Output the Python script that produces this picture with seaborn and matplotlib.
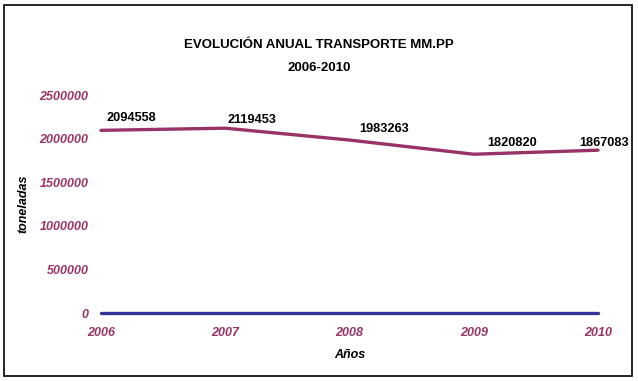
import pandas as pd
import matplotlib
matplotlib.use('Agg')
import matplotlib.pyplot as plt
import seaborn as sns

# data
years = [2006, 2007, 2008, 2009, 2010]
toneladas = [2094558, 2119453, 1983263, 1820820, 1867083]
base = [0, 0, 0, 0, 0]
label_offsets = [(30, 12), (27, 8), (35, 11), (38, 11), (6, 7)]

df = pd.DataFrame({'Años': years, 'toneladas': toneladas, 'base': base})

sns.set_style('white')
plt.rcParams['font.family'] = ['Liberation Sans', 'DejaVu Sans']
plt.rcParams['text.color'] = 'black'
plt.rcParams['axes.labelcolor'] = 'black'

fig = plt.figure(figsize=(6.38, 3.81), dpi=100)
ax = fig.add_axes([101 / 638, 1 - 313 / 381, (598 - 101) / 638, (313 - 95) / 381])

sns.lineplot(data=df, x='Años', y='base', color='#333399', lw=2.4, ax=ax, clip_on=False)
sns.lineplot(data=df, x='Años', y='toneladas', color='#993366', lw=2.4, ax=ax, clip_on=False)

for x, y, off in zip(years, toneladas, label_offsets):
    ax.annotate(str(y), (x, y), xytext=off, textcoords='offset pixels',
                ha='center', va='center', fontsize=9.2, fontweight='bold', color='black')

ax.set_xlim(2006, 2010)
ax.set_ylim(0, 2500000)
ax.set_xticks(years)
ax.set_yticks([0, 500000, 1000000, 1500000, 2000000, 2500000])
ax.set_yticklabels(['0', '500000', '1000000', '1500000', '2000000', '2500000'])
ax.tick_params(axis='both', length=0, labelsize=9, labelcolor='#993366')
ax.tick_params(axis='y', pad=9)
ax.tick_params(axis='x', pad=10)
for lbl in ax.get_xticklabels() + ax.get_yticklabels():
    lbl.set_fontweight('bold')
    lbl.set_fontstyle('italic')
for s in ax.spines.values():
    s.set_visible(False)

ax.set_xlabel('Años', fontsize=9, fontweight='bold', fontstyle='italic', labelpad=7)
ax.set_ylabel('toneladas', fontsize=9, fontweight='bold', fontstyle='italic', labelpad=7)

fig.text(0.5, 1 - 45 / 381, 'EVOLUCIÓN ANUAL TRANSPORTE MM.PP', ha='center', va='center',
         fontsize=9.5, fontweight='bold')
fig.text(0.5, 1 - 68 / 381, '2006-2010', ha='center', va='center',
         fontsize=9.5, fontweight='bold')

border = plt.Rectangle((4 / 638, 5 / 381), 628 / 638, 371 / 381, transform=fig.transFigure,
                       fill=False, edgecolor='black', lw=1.2)
fig.patches.append(border)

fig.savefig('out.png', dpi=100)
